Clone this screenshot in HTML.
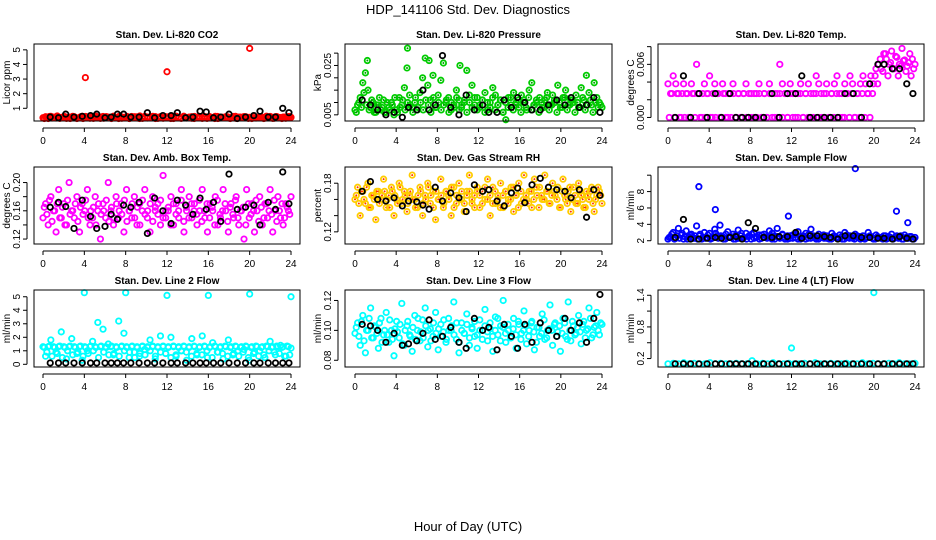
<!DOCTYPE html>
<html><head><meta charset="utf-8"><style>
body{margin:0;background:#fff}
svg{display:block;font-family:"Liberation Sans",sans-serif}
</style></head><body>
<svg id="c" width="936" height="540" viewBox="0 0 936 540">
<text x="468" y="14" text-anchor="middle" font-size="13">HDP_141106  Std. Dev. Diagnostics</text>
<text x="468" y="531" text-anchor="middle" font-size="13">Hour of Day (UTC)</text>
</svg>
<script>
const blackHours=[0.7,1.5,2.2,3,3.8,4.6,5.2,6,6.6,7.2,7.8,8.5,9.3,10.1,10.8,11.6,12.4,13,13.8,14.5,15.2,15.8,16.5,17.2,18,18.8,19.6,20.4,21,21.8,22.5,23.2,23.8];
const xTicks=[0,4,8,12,16,20,24];
const p1Main=[.35,.42,.3,.45,.38,.33,.4,.36,.44,.31,.39,.35,.42,.3,.37,.45,.34,.4,.32,.43,.36,.38,.31,.44,.35,.4,.33,.46,.37,.3,.42,.36,.39,.32,.44,.35,.41,.3,.38,.45,.33,.4,.36,.43,.31,.39,.35,.42,.34,.41,.3,.46,.37,.33,.42,.36,.4,.32,.44,.35,.38,.31,.43,.36,.4,.34,.45,.3,.39,.35,.42,.33,.37,.44,.31,.4,.36,.43,.34,.38,.3,.45,.35,.41,.33,.39,.36,.44,.31,.42,.37,.35,.4,.32,.43,.38];
const p1MainB=[.3,.38,.44,.33,.4,.47,.31,.36,.42,.35,.3,.45,.37,.33,.41,.3,.44,.36,.39,.31,.46,.34,.4,.32,.43,.37,.3,.41,.35,.45,.32,.38,.44,.3,.36,.42,.33,.47,.31,.37,.4,.34,.45,.3,.38,.43,.32,.36,.41,.3,.44,.35,.39,.31,.46,.33,.38,.42,.3,.37,.45,.34,.4,.31,.43,.36,.3,.44,.33,.39,.35,.41,.3,.37,.45,.32,.4,.35,.42,.31,.38,.44,.33,.36,.41,.3,.46,.34,.39,.32,.43,.37,.3,.4,.35,.44];
const p1OutHours=[4.1,12,20];
const p1OutVals=[3.1,3.5,5.1];
const p1Black=[.4,.35,.6,.4,.45,.5,.6,.35,.4,.6,.6,.4,.4,.7,.35,.5,.5,.7,.35,.4,.8,.75,.35,.4,.6,.3,.4,.5,.8,.4,.4,1.0,.7];
const p2Main=[.007,.009,.012,.018,.022,.015,.008,.010,.006,.009,.007,.011,.006,.008,.010,.005,.007,.012,.009,.016,.024,.013,.008,.010,.007,.014,.020,.028,.017,.011,.021,.008,.013,.019,.026,.010,.012,.007,.009,.015,.011,.008,.010,.023,.013,.017,.009,.012,.008,.011,.014,.007,.010,.016,.013,.009,.011,.006,.003,.012,.009,.014,.010,.008,.013,.011,.007,.015,.018,.009,.010,.012,.008,.011,.014,.009,.013,.010,.017,.008,.012,.015,.009,.011,.010,.013,.008,.016,.011,.021,.014,.009,.018,.012,.010,.008];
const p2MainB=[.006,.010,.008,.014,.009,.007,.011,.006,.009,.012,.008,.006,.010,.007,.009,.012,.006,.008,.011,.007,.010,.009,.006,.012,.008,.010,.007,.011,.009,.006,.012,.008,.010,.007,.009,.011,.006,.010,.008,.012,.007,.009,.011,.006,.010,.008,.012,.007,.009,.011,.006,.010,.008,.012,.007,.009,.011,.006,.010,.008,.012,.007,.009,.011,.006,.010,.008,.012,.007,.009,.011,.006,.010,.008,.012,.007,.009,.011,.006,.010,.008,.012,.007,.009,.011,.006,.010,.008,.012,.007,.009,.011,.006,.010,.008,.009];
const p2OutHours=[5.1,1.2,7.2,10.2];
const p2OutVals=[.032,.027,.027,.025];
const p2Black=[.011,.009,.007,.005,.006,.004,.008,.007,.015,.007,.009,.029,.008,.005,.013,.007,.009,.006,.006,.011,.008,.012,.010,.007,.007,.009,.011,.009,.012,.008,.009,.012,.006];
const p3Main=[.0038,.0027,.0047,.0038,.0027,0,.0038,.0027,0,.0038,.0027,.006,.0027,0,.0038,.0027,.0047,0,.0038,.0027,0,.0038,.0027,0,.0027,.0038,0,.0027,0,.0027,.0038,0,.0027,0,.0027,.0038,0,.0027,0,.0038,.0027,0,.0027,.006,.0038,.0027,0,.0038,.0027,0,.0027,.0038,0,.0027,.0038,0,.0027,.0047,.0038,0,.0027,.0038,0,.0027,.0038,.0047,.0027,0,.0038,.0027,.0047,.0038,0,.0027,.0038,.0047,.0038,.0027,.0047,.0038,.0055,.006,.0055,.0072,.0066,.006,.0075,.0055,.0068,.006,.0078,.0065,.0058,.0072,.0066,.006];
const p3MainB=[0,.0027,0,.0027,0,.0027,0,.0027,0,.0027,0,.0027,0,.0027,0,.0027,0,.0027,0,.0027,0,.0027,0,.0027,0,.0027,0,.0027,0,.0027,0,.0027,0,.0027,0,.0027,0,.0027,0,.0027,0,.0027,0,.0027,0,.0027,0,.0027,0,.0027,0,.0027,0,.0027,0,.0027,0,.0027,0,.0027,0,.0027,0,.0027,0,.0027,0,.0027,0,.0027,0,.0027,0,.0027,0,.0027,0,.0027,0,.0027,.0047,.0038,.0066,.0052,.0072,.0047,.0062,.0055,.0069,.0047,.0058,.0064,.0052,.0062,.0047,.0055];
const p3Black=[0,.0047,0,.0027,0,.0027,0,.0027,0,0,0,0,0,.0027,0,.0027,.0027,.0047,0,0,0,0,0,.0027,.0027,0,.0038,.006,.006,.0055,.0055,.0038,.0027];
const p4Main=[.15,.17,.14,.18,.16,.13,.19,.15,.17,.14,.2,.16,.15,.18,.13,.17,.16,.19,.14,.15,.18,.16,.12,.17,.15,.2,.16,.14,.18,.15,.17,.13,.19,.16,.15,.18,.14,.17,.16,.19,.15,.13,.18,.16,.17,.14,.21,.15,.16,.18,.14,.17,.15,.19,.13,.16,.18,.15,.17,.14,.16,.19,.15,.13,.17,.16,.18,.14,.15,.19,.16,.13,.17,.15,.18,.14,.16,.12,.19,.15,.17,.13,.16,.18,.14,.17,.15,.19,.13,.16,.18,.15,.14,.17,.16,.18];
const p4MainB=[.165,.155,.175,.145,.16,.17,.15,.165,.14,.175,.155,.16,.17,.145,.165,.155,.175,.15,.16,.165,.14,.17,.155,.16,.175,.145,.165,.15,.17,.16,.155,.175,.145,.16,.17,.15,.165,.14,.175,.155,.16,.17,.145,.165,.155,.175,.15,.16,.165,.14,.17,.155,.16,.175,.145,.165,.15,.17,.16,.155,.175,.145,.16,.17,.15,.165,.14,.175,.155,.16,.17,.145,.165,.155,.175,.15,.16,.165,.14,.17,.155,.16,.175,.145,.165,.15,.17,.16,.155,.175,.145,.16,.17,.15,.165,.155];
const p4Black=[.165,.172,.166,.135,.175,.152,.135,.138,.155,.148,.168,.165,.172,.128,.178,.16,.142,.175,.168,.155,.178,.162,.172,.145,.212,.162,.165,.168,.14,.172,.162,.215,.17];
const p5Main=[.16,.175,.14,.17,.155,.18,.15,.165,.135,.17,.16,.185,.15,.165,.175,.14,.16,.18,.155,.17,.145,.165,.19,.16,.15,.175,.14,.165,.18,.155,.17,.135,.16,.185,.15,.17,.165,.14,.175,.155,.18,.16,.145,.17,.19,.155,.165,.175,.15,.17,.16,.185,.14,.175,.155,.165,.18,.15,.17,.16,.175,.145,.165,.18,.155,.19,.16,.17,.15,.185,.165,.175,.16,.19,.17,.155,.18,.165,.175,.15,.185,.16,.17,.145,.175,.155,.18,.165,.15,.17,.16,.175,.145,.165,.17,.155];
const p5MainB=[.165,.155,.17,.16,.175,.15,.165,.16,.17,.155,.165,.17,.16,.15,.17,.165,.155,.175,.16,.165,.155,.17,.16,.15,.165,.17,.155,.16,.175,.165,.15,.17,.16,.165,.155,.17,.16,.175,.15,.165,.16,.17,.155,.165,.17,.16,.15,.17,.165,.155,.175,.16,.165,.155,.17,.16,.15,.165,.17,.155,.16,.175,.165,.15,.17,.16,.165,.155,.17,.16,.175,.15,.165,.16,.17,.155,.165,.17,.16,.15,.17,.165,.155,.175,.16,.165,.155,.17,.16,.15,.165,.17,.155,.16,.175,.165];
const p5Black=[.17,.182,.16,.158,.162,.152,.158,.157,.153,.148,.175,.158,.168,.162,.145,.178,.17,.172,.158,.152,.168,.174,.156,.178,.186,.175,.172,.17,.162,.172,.138,.172,.165];
const p6Main=[2.2,2.5,3.0,2.3,3.5,2.7,2.2,3.2,2.5,2.8,2.3,3.8,2.6,2.2,3.0,2.4,2.9,2.3,3.4,2.6,3.9,2.5,2.2,3.1,2.4,2.8,2.2,3.3,2.6,2.3,2.9,2.5,2.2,3.0,2.4,2.7,2.3,2.8,2.5,3.2,2.2,2.6,3.5,2.4,2.8,2.2,2.6,2.3,2.7,2.4,3.1,2.2,2.6,2.9,2.3,3.4,2.5,2.2,2.8,2.4,2.3,2.6,2.2,2.9,2.5,2.3,2.7,2.2,3.0,2.4,2.6,2.3,2.8,2.4,2.2,2.6,2.3,3.0,2.5,2.2,2.7,2.4,2.3,2.6,2.2,2.5,2.8,2.3,2.6,2.4,2.2,2.7,2.3,2.5,2.2,2.4];
const p6MainB=[2.4,2.8,2.2,2.6,2.3,2.9,2.5,2.2,2.7,2.3,2.6,2.2,2.8,2.4,2.3,2.7,2.2,2.5,2.9,2.3,2.6,2.2,2.8,2.4,2.5,2.2,2.7,2.3,2.9,2.4,2.2,2.6,2.8,2.3,2.5,2.2,2.7,2.4,2.3,2.6,2.9,2.2,2.5,2.3,2.7,2.4,2.2,2.6,2.3,2.8,2.2,2.5,2.4,2.2,2.7,2.3,2.6,2.4,2.2,2.5,2.7,2.3,2.4,2.2,2.6,2.4,2.3,2.5,2.2,2.7,2.3,2.4,2.2,2.6,2.5,2.3,2.2,2.4,2.6,2.3,2.2,2.5,2.4,2.2,2.6,2.3,2.4,2.2,2.5,2.3,2.6,2.2,2.4,2.3,2.5,2.2];
const p6OutHours=[3.0,4.6,11.7,18.2,22.2,23.3];
const p6OutVals=[8.6,5.8,5.0,10.8,5.6,4.2];
const p6Black=[2.4,4.6,2.2,2.2,2.3,2.4,2.3,2.4,2.5,2.2,4.2,3.5,2.4,2.4,2.5,2.5,3.0,2.3,2.6,2.6,2.5,2.4,2.2,2.6,2.6,2.4,2.4,2.3,2.3,2.2,2.5,2.3,2.2];
const p7Main=[1.3,0.6,1.3,1.8,1.3,0.9,1.3,2.4,1.3,0.4,1.3,1.9,1.3,0.8,1.3,0.3,1.3,1.0,1.3,1.7,1.3,3.1,1.3,2.6,1.3,1.5,1.3,0.7,1.3,3.2,1.3,2.3,1.3,0.5,1.3,0.9,1.3,0.6,1.3,1.1,1.3,1.8,1.3,0.4,1.3,2.1,1.3,0.8,1.3,2.0,1.3,0.6,1.3,1.0,1.3,0.3,1.3,1.9,1.3,0.7,1.3,2.1,1.3,0.5,1.3,1.6,1.3,0.9,1.3,0.4,1.3,1.8,1.3,0.8,1.3,0.6,1.3,1.1,1.3,0.3,1.3,0.9,1.3,1.0,1.3,0.5,1.3,1.7,1.3,0.7,1.3,1.4,1.3,0.6,1.3,1.2];
const p7MainB=[1.25,0.9,1.35,0.6,1.25,0.8,1.35,0.5,1.25,1.0,1.35,0.7,1.25,0.9,1.35,0.6,1.25,0.8,1.35,1.0,1.25,0.5,1.35,0.9,1.25,0.7,1.35,0.8,1.25,0.6,1.35,1.0,1.25,0.9,1.35,0.5,1.25,0.8,1.35,0.7,1.25,1.0,1.35,0.6,1.25,0.9,1.35,0.8,1.25,0.5,1.35,0.7,1.25,1.0,1.35,0.9,1.25,0.6,1.35,0.8,1.25,0.7,1.35,1.0,1.25,0.5,1.35,0.9,1.25,0.8,1.35,0.6,1.25,0.7,1.35,1.0,1.25,0.9,1.35,0.5,1.25,0.8,1.35,0.6,1.25,0.7,1.35,1.0,1.25,0.9,1.35,0.8,1.25,0.6,1.35,0.7];
const p7OutHours=[4,8,12,16,20,24];
const p7OutVals=[5.3,5.3,5.1,5.1,5.2,5.0];
const p7Black=[.1,.1,.1,.1,.1,.1,.1,.1,.1,.1,.1,.1,.1,.1,.1,.1,.1,.1,.1,.1,.1,.1,.1,.1,.1,.1,.1,.1,.1,.1,.1,.1,.1];
const p8Main=[.098,.105,.09,.11,.085,.1,.115,.095,.102,.088,.108,.097,.112,.092,.1,.083,.106,.095,.118,.09,.103,.097,.086,.11,.1,.093,.107,.115,.089,.101,.096,.112,.087,.104,.099,.092,.108,.1,.119,.094,.085,.105,.098,.111,.09,.102,.096,.088,.107,.1,.114,.093,.101,.086,.109,.097,.103,.12,.092,.1,.095,.108,.088,.104,.098,.113,.091,.1,.106,.087,.102,.096,.111,.094,.1,.117,.09,.105,.099,.086,.108,.096,.119,.093,.103,.098,.11,.091,.106,.1,.115,.095,.102,.112,.097,.104];
const p8MainB=[.102,.096,.106,.093,.1,.108,.095,.103,.098,.105,.092,.1,.097,.107,.094,.101,.099,.104,.091,.1,.106,.096,.102,.094,.108,.099,.095,.103,.1,.093,.105,.098,.101,.096,.107,.094,.1,.103,.097,.105,.092,.1,.098,.104,.095,.101,.106,.097,.1,.094,.103,.099,.105,.096,.1,.108,.093,.102,.098,.104,.095,.101,.097,.106,.094,.1,.103,.096,.105,.099,.092,.102,.098,.107,.095,.101,.1,.104,.096,.103,.098,.105,.094,.1,.106,.097,.102,.099,.104,.095,.101,.108,.097,.103,.1,.105];
const p8Black=[.104,.103,.1,.092,.098,.09,.091,.093,.098,.107,.094,.096,.102,.092,.088,.108,.1,.102,.087,.104,.096,.088,.104,.092,.105,.1,.096,.108,.1,.105,.092,.108,.124];
const p9Main=[.1,.11,.1,.12,.1,.11,.1,.1,.12,.1,.11,.1,.1,.11,.1,.1,.16,.1,.11,.1,.12,.1,.1,.11,.1,.1,.11,.1,.12,.1,.1,.11,.1,.1,.11,.1,.1,.12,.1,.11,.1,.1,.11,.1,.12,.1,.1,.11];
const p9OutHours=[12,20];
const p9OutVals=[.4,1.45];
const p9Black=[.1,.1,.1,.1,.1,.1,.1,.1,.1,.1,.1,.1,.1,.1,.1,.1,.1,.1,.1,.1,.1,.1,.1,.1,.1,.1,.1,.1,.1,.1,.1,.1,.1];

const svg=document.getElementById('c');
const NS='http://www.w3.org/2000/svg';
function mk(tag,attrs,parent){const e=document.createElementNS(NS,tag);for(const k in attrs)e.setAttribute(k,attrs[k]);(parent||svg).appendChild(e);return e;}
const cols=[{l:34,r:300,x0:43,x24:291},{l:345,r:612,x0:355,x24:602},{l:658,r:924,x0:668,x24:915}];
const rows=[{t:44,b:121},{t:167,b:244},{t:290,b:367}];
const panels=[
 {title:'Stan. Dev. Li-820 CO2',yl:'Licor ppm',ymin:.13,ymax:5.4,ticks:[1,2,3,4,5],labs:['1','2','3','4','5'],color:'#ff0000',fill:'#ff0000',main:p1Main,mainB:p1MainB,oh:p1OutHours,ov:p1OutVals,black:p1Black},
 {title:'Stan. Dev. Li-820 Pressure',yl:'kPa',ymin:.0025,ymax:.0337,ticks:[.005,.01,.015,.02,.025,.03],labs:['0.005','','','','0.025',''],color:'#00cc00',fill:'#009900',main:p2Main,mainB:p2MainB,oh:p2OutHours,ov:p2OutVals,black:p2Black},
 {title:'Stan. Dev. Li-820 Temp.',yl:'degrees C',ymin:-.0004,ymax:.0083,ticks:[0,.002,.004,.006,.008],labs:['0.000','','','0.006',''],color:'#ff00ff',fill:'#ff00ff',main:p3Main,mainB:p3MainB,oh:[],ov:[],black:p3Black},
 {title:'Stan. Dev. Amb. Box Temp.',yl:'degrees C',ymin:.113,ymax:.222,ticks:[.12,.14,.16,.18,.2],labs:['0.12','','0.16','','0.20'],color:'#ff00ff',fill:'#ff00ff',main:p4Main,mainB:p4MainB,oh:[],ov:[],black:p4Black},
 {title:'Stan. Dev. Gas Stream RH',yl:'percent',ymin:.105,ymax:.2,ticks:[.12,.14,.16,.18],labs:['0.12','','','0.18'],color:'#ffcc00',fill:'#ff3300',main:p5Main,mainB:p5MainB,oh:[],ov:[],black:p5Black},
 {title:'Stan. Dev. Sample Flow',yl:'ml/min',ymin:1.6,ymax:11,ticks:[2,4,6,8,10],labs:['2','4','6','8',''],color:'#0000ff',fill:'#0000ff',main:p6Main,mainB:p6MainB,oh:p6OutHours,ov:p6OutVals,black:p6Black},
 {title:'Stan. Dev. Line 2 Flow',yl:'ml/min',ymin:-.2,ymax:5.5,ticks:[0,1,2,3,4,5],labs:['0','1','2','3','4','5'],color:'#00ffff',fill:'#00ffff',main:p7Main,mainB:p7MainB,oh:p7OutHours,ov:p7OutVals,black:p7Black},
 {title:'Stan. Dev. Line 3 Flow',yl:'ml/min',ymin:.0755,ymax:.127,ticks:[.08,.1,.12],labs:['0.08','0.10','0.12'],color:'#00ffff',fill:'#00ffff',main:p8Main,mainB:p8MainB,oh:[],ov:[],black:p8Black},
 {title:'Stan. Dev. Line 4 (LT) Flow',yl:'ml/min',ymin:.04,ymax:1.5,ticks:[.2,.5,.8,1.1,1.4],labs:['0.2','','0.8','','1.4'],color:'#00ffff',fill:'#00ffff',main:p9Main,mainB:[],oh:p9OutHours,ov:p9OutVals,black:p9Black}
];
panels.forEach((p,i)=>{
 const c=cols[i%3],r=rows[Math.floor(i/3)];
 const g=mk('g',{});
 
 
 const sx=h=>c.x0+(c.x24-c.x0)*h/24;
 const sy=v=>r.b-(v-p.ymin)/(p.ymax-p.ymin)*(r.b-r.t);
 const t=mk('text',{x:(c.l+c.r)/2,y:r.t-6,'text-anchor':'middle','font-size':10,'font-weight':'bold'},g);t.textContent=p.title;
 
 
 const yl=mk('text',{x:0,y:0,'text-anchor':'middle','font-size':10,transform:`translate(${c.l-24},${(r.t+r.b)/2}) rotate(-90)`},g);yl.textContent=p.yl;
 
 
 const pts=mk('g',{},g);
 
 
 const dot=(h,v,col,fc,name)=>{const e=mk('circle',{cx:sx(h),cy:sy(v),r:2.7,fill:'none',stroke:col,'stroke-width':1.8},pts);
  
  
  if(fc!==col){mk('circle',{cx:sx(h),cy:sy(v),r:1,fill:fc},pts);} };
 const n=p.main.length;
 p.main.forEach((v,k)=>dot(k*24/(n-1),v,p.color,p.fill,'main-point'));
 const nb=p.mainB.length;
 p.mainB.forEach((v,k)=>dot((k+0.5)*24/nb,v,p.color,p.fill,'main-point'));
 p.oh.forEach((h,k)=>dot(h,p.ov[k],p.color,p.fill,'outlier-point'));
 p.black.forEach((v,k)=>dot(blackHours[k],v,'#000','#000','black-point'));
 const ax=mk('g',{},g);
 
 
 mk('rect',{x:c.l,y:r.t,width:c.r-c.l,height:r.b-r.t,fill:'none',stroke:'#000','stroke-width':1},ax);
 mk('line',{x1:sx(0),x2:sx(24),y1:r.b+7,y2:r.b+7,stroke:'#000'},ax);
 xTicks.forEach(h=>{mk('line',{x1:sx(h),x2:sx(h),y1:r.b+7,y2:r.b+11,stroke:'#000'},ax);
  const tl=mk('text',{x:sx(h),y:r.b+23,'text-anchor':'middle','font-size':10},ax);tl.textContent=h;
  
  });
 const yt=p.ticks.filter(v=>v>=p.ymin&&v<=p.ymax);
 mk('line',{x1:c.l-7,x2:c.l-7,y1:sy(yt[0]),y2:sy(yt[yt.length-1]),stroke:'#000'},ax);
 p.ticks.forEach((v,k)=>{if(v<p.ymin||v>p.ymax)return;mk('line',{x1:c.l-11,x2:c.l-7,y1:sy(v),y2:sy(v),stroke:'#000'},ax);
  if(p.labs[k]){const tl=mk('text',{x:0,y:0,'text-anchor':'middle','font-size':10,transform:`translate(${c.l-14},${sy(v)}) rotate(-90)`},ax);tl.textContent=p.labs[k];
  
  }});
});
</script>
</body></html>
